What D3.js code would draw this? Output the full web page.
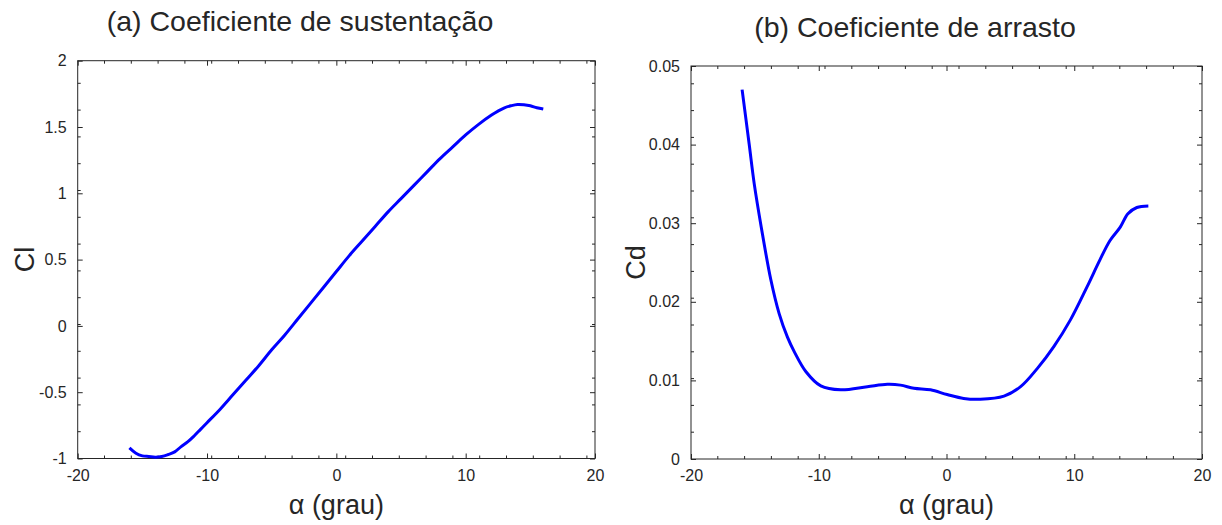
<!DOCTYPE html>
<html>
<head>
<meta charset="utf-8">
<script src="https://cdn.jsdelivr.net/npm/d3@7"></script>
<style>
  body { margin: 0; background: #fff; }
  svg { display: block; }
  text { font-family: "Liberation Sans", Arial, Helvetica, sans-serif; fill: #262626; }
</style>
</head>
<body>
<svg id="fig" width="1222" height="525"></svg>
<script>
// Angle of attack (deg) and lift coefficient
const alphaCl = [-16, -15.5, -15, -14.5, -14, -13.5, -13, -12.5, -12, -11.5, -11, -10.5, -10,
  -9, -8, -7, -6, -5, -4, -3, -2, -1, 0, 1, 2, 3, 4, 5, 6, 7, 8, 9, 10, 11, 12, 12.5, 13, 13.5, 14, 14.5, 15, 15.5, 16];
const clValues = [-0.92, -0.96, -0.98, -0.985, -0.99, -0.985, -0.97, -0.95, -0.91, -0.875, -0.83, -0.78, -0.73,
  -0.63, -0.52, -0.41, -0.30, -0.18, -0.07, 0.05, 0.17, 0.29, 0.41, 0.53, 0.64, 0.75, 0.86, 0.96, 1.06, 1.16, 1.26, 1.35, 1.44, 1.52, 1.59, 1.62, 1.645, 1.66, 1.67, 1.668, 1.66, 1.645, 1.635];

// Angle of attack (deg) and drag coefficient
const alphaCd = [-16, -15.45, -15.05, -14.5, -13.75, -13.1, -12.45, -11.9, -11, -9.84, -8.28, -6.2, -4.63, -3.6,
  -2.55, -1.25, 0.05, 1.35, 2.65, 4.5, 5.8, 7.1, 8.4, 9.7, 11, 12, 12.8, 13.6, 14.2, 14.9, 15.8];
const cdValues = [0.0470, 0.0401, 0.0350, 0.0295, 0.0228, 0.0185, 0.0155, 0.0136, 0.0111, 0.0093, 0.0088, 0.0092, 0.0095, 0.0094,
  0.0090, 0.0088, 0.0082, 0.0077, 0.0076, 0.0080, 0.0092, 0.0115, 0.0143, 0.0177, 0.0219, 0.0253, 0.0278, 0.0295, 0.0312, 0.0320, 0.0322];

const xTicks = [-20, -10, 0, 10, 20];
const clTicks = [-1, -0.5, 0, 0.5, 1, 1.5, 2];
const cdTicks = [0, 0.01, 0.02, 0.03, 0.04, 0.05];
const xTickLabels = ["-20", "-10", "0", "10", "20"];
const clTickLabels = ["-1", "-0.5", "0", "0.5", "1", "1.5", "2"];
const cdTickLabels = ["0", "0.01", "0.02", "0.03", "0.04", "0.05"];

const svg = d3.select("#fig");
const MINOR_PX = 26.8;

function panel(opt) {
  const { left, right, top, bottom, ys, xData, yData, yTickVals, yTickText, title, titleX, titleY, yLabel, yLabelX } = opt;
  const x = d3.scaleLinear().domain([-20, 20]).range([left, right]);
  const y = d3.scaleLinear().domain(ys).range([bottom, top]);
  const g = svg.append("g");
  const axisColor = "#262626";

  // frame
  g.append("rect").attr("x", left).attr("y", top).attr("width", right - left).attr("height", bottom - top)
    .attr("fill", "none").attr("stroke", axisColor).attr("stroke-width", 1);

  // minor ticks (fixed pixel pitch), all four sides
  for (let px = left + MINOR_PX; px < right - 2; px += MINOR_PX) {
    g.append("line").attr("x1", px).attr("x2", px).attr("y1", bottom).attr("y2", bottom - 3).attr("stroke", axisColor);
    g.append("line").attr("x1", px).attr("x2", px).attr("y1", top).attr("y2", top + 3).attr("stroke", axisColor);
  }
  for (let py = bottom - MINOR_PX; py > top + 2; py -= MINOR_PX) {
    g.append("line").attr("y1", py).attr("y2", py).attr("x1", left).attr("x2", left + 3).attr("stroke", axisColor);
    g.append("line").attr("y1", py).attr("y2", py).attr("x1", right).attr("x2", right - 3).attr("stroke", axisColor);
  }

  // major ticks via d3 axes (inward)
  const xFmt = d => xTickLabels[xTicks.indexOf(d)];
  const yFmt = d => yTickText[yTickVals.indexOf(d)];
  const ax = [
    [d3.axisBottom(x).tickValues(xTicks).tickSizeInner(-5).tickSizeOuter(0).tickPadding(11).tickFormat(xFmt), `translate(0,${bottom})`],
    [d3.axisTop(x).tickValues(xTicks).tickSizeInner(-5).tickSizeOuter(0).tickFormat(""), `translate(0,${top})`],
    [d3.axisLeft(y).tickValues(yTickVals).tickSizeInner(-5).tickSizeOuter(0).tickPadding(11).tickFormat(yFmt), `translate(${left},0)`],
    [d3.axisRight(y).tickValues(yTickVals).tickSizeInner(-5).tickSizeOuter(0).tickFormat(""), `translate(${right},0)`]
  ];
  ax.forEach(([a, tr]) => {
    const ga = g.append("g").attr("transform", tr).call(a);
    ga.select(".domain").remove();
    ga.selectAll(".tick line").attr("stroke", axisColor);
    ga.selectAll(".tick text").attr("font-size", 16).attr("fill", axisColor)
      .style("font-family", '"Liberation Sans", Arial, sans-serif');
  });

  // curve
  const pts = xData.map((a, i) => [a, yData[i]]);
  g.append("path").datum(pts)
    .attr("d", d3.line().x(d => x(d[0])).y(d => y(d[1])).curve(d3.curveCatmullRom.alpha(0.5)))
    .attr("fill", "none").attr("stroke", "#0000ff").attr("stroke-width", 3).attr("stroke-linejoin", "round");

  // titles and labels
  g.append("text").attr("x", titleX).attr("y", titleY).attr("text-anchor", "middle")
    .attr("font-size", 28.5).attr("fill", "#000").text(title);
  g.append("text").attr("x", (left + right) / 2).attr("y", 514).attr("text-anchor", "middle")
    .attr("font-size", 27).attr("fill", "#262626").text("α (grau)");
  g.append("text").attr("transform", `translate(${yLabelX},${(top + bottom) / 2}) rotate(-90)`)
    .attr("text-anchor", "middle").attr("font-size", 27).attr("fill", "#262626").text(yLabel);
}

panel({
  left: 77.7, right: 595, top: 60.7, bottom: 458.5, ys: [-1, 2],
  xData: alphaCl, yData: clValues, yTickVals: clTicks, yTickText: clTickLabels,
  title: "(a) Coeficiente de sustentação", titleX: 300, titleY: 31, yLabel: "Cl", yLabelX: 34
});
panel({
  left: 691, right: 1202, top: 66, bottom: 459, ys: [0, 0.05],
  xData: alphaCd, yData: cdValues, yTickVals: cdTicks, yTickText: cdTickLabels,
  title: "(b) Coeficiente de arrasto", titleX: 915, titleY: 37, yLabel: "Cd", yLabelX: 645
});
</script>
</body>
</html>
